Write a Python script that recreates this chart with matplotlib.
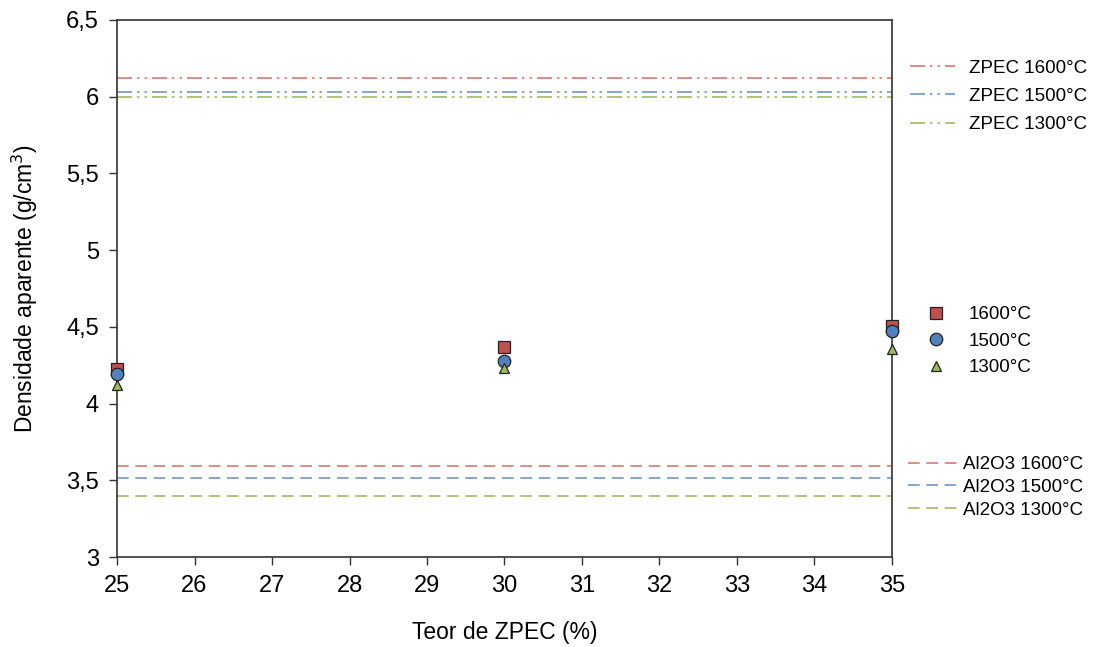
import matplotlib

matplotlib.use("Agg")

import matplotlib.pyplot as plt

plt.rcParams["font.family"] = ["Liberation Sans", "DejaVu Sans"]

# ZPEC content (%) and apparent density per sintering temperature
teor = [25, 30, 35]
dens_1600 = [4.225, 4.37, 4.505]
dens_1500 = [4.19, 4.28, 4.47]
dens_1300 = [4.12, 4.23, 4.355]

# reference densities of the pure phases
zpec_ref = {"1600": 6.12, "1500": 6.03, "1300": 5.995}
al2o3_ref = {"1600": 3.595, "1500": 3.515, "1300": 3.40}

temps = ["1600", "1500", "1300"]
cores = {"1600": "#c0504d", "1500": "#4f81bd", "1300": "#9bbb59"}
linhas_cores = {"1600": "#d47a78", "1500": "#6f96cc", "1300": "#9fbb60"}
marcadores = {"1600": ("s", 9), "1500": ("o", 9), "1300": ("^", 7)}
series = {"1600": dens_1600, "1500": dens_1500, "1300": dens_1300}

fig = plt.figure(figsize=(11.05, 6.47), dpi=100)
ax = fig.add_axes([0.1059, 0.1391, 0.7013, 0.8300])

zpec_handles, al_handles, pt_handles = [], [], []
for t in temps:
    h = ax.axhline(zpec_ref[t], color=linhas_cores[t], linewidth=1.2,
                   dashes=(9, 3, 1.5, 3, 1.5, 3), label=f"ZPEC {t}°C")
    zpec_handles.append(h)
for t in temps:
    h = ax.axhline(al2o3_ref[t], color=linhas_cores[t], linewidth=1.2,
                   dashes=(7, 4), label=f"Al2O3 {t}°C")
    al_handles.append(h)
for t in temps:
    m, s = marcadores[t]
    h, = ax.plot(teor, series[t], linestyle="none", marker=m, markersize=s,
                 markerfacecolor=cores[t], markeredgecolor="#222222",
                 markeredgewidth=0.9, clip_on=False, zorder=5, label=f"{t}°C")
    pt_handles.append(h)

ax.set_xlim(25, 35)
ax.set_ylim(3, 6.5)
ax.set_xticks(range(25, 36))
ax.set_yticks([3, 3.5, 4, 4.5, 5, 5.5, 6, 6.5])
ax.set_yticklabels(["3", "3,5", "4", "4,5", "5", "5,5", "6", "6,5"])
ax.tick_params(axis="both", labelsize=17, length=6, width=1, color="#333333",
               direction="out", pad=7)
for sp in ax.spines.values():
    sp.set_color("#333333")
    sp.set_linewidth(1.2)

ax.set_xlabel("Teor de ZPEC (%)", fontsize=16.5, labelpad=17)
ax.set_ylabel("Densidade aparente (g/cm$^3$)", fontsize=16.5, labelpad=19)

leg_kw = dict(frameon=False, fontsize=13.5, borderpad=0, borderaxespad=0,
              loc="upper left")
fig.legend(handles=zpec_handles, bbox_to_anchor=(0.8235, 0.908),
           handlelength=2.4, handletextpad=0.75, labelspacing=0.6, **leg_kw)
fig.legend(handles=pt_handles, bbox_to_anchor=(0.834, 0.527),
           handlelength=1.5, handletextpad=1.0, labelspacing=0.5, **leg_kw)
fig.legend(handles=al_handles, bbox_to_anchor=(0.8215, 0.295),
           handlelength=2.6, handletextpad=0.35, labelspacing=0.3, **leg_kw)

fig.savefig("out.png", dpi=100)
plt.close(fig)
